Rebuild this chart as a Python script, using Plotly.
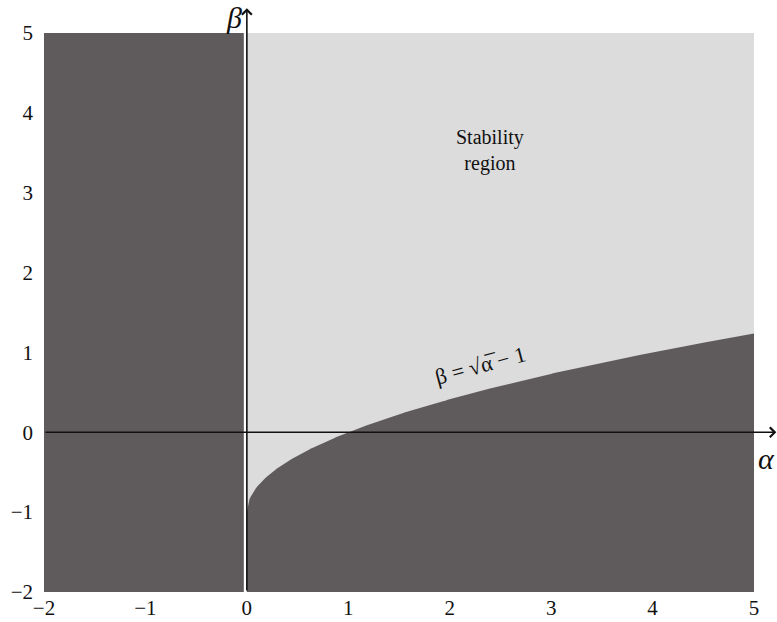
import numpy as np
import plotly.graph_objects as go

# Data
x_ticks = [-2, -1, 0, 1, 2, 3, 4, 5]
y_ticks = [-2, -1, 0, 1, 2, 3, 4, 5]
alpha = list(np.linspace(0, 5, 400))
beta_curve = [np.sqrt(a) - 1 for a in alpha]  # boundary beta = sqrt(alpha) - 1

DARK = "#5f5a5b"
LIGHT = "#dcdcdc"
SERIF = "Liberation Serif"

fig = go.Figure()
# light region x>=0
fig.add_trace(go.Scatter(x=[0, 5, 5, 0, 0], y=[-2, -2, 5, 5, -2], fill="toself",
                         fillcolor=LIGHT, line=dict(width=0), mode="lines",
                         hoverinfo="skip", showlegend=False))
# dark region x<0
fig.add_trace(go.Scatter(x=[-2, -0.03, -0.03, -2, -2], y=[-2, -2, 5, 5, -2], fill="toself",
                         fillcolor=DARK, line=dict(width=0), mode="lines",
                         hoverinfo="skip", showlegend=False))
# dark region below curve
fig.add_trace(go.Scatter(x=alpha + [5, 0], y=beta_curve + [-2, -2], fill="toself",
                         fillcolor=DARK, line=dict(width=0), mode="lines",
                         hoverinfo="skip", showlegend=False))

# axes lines with arrows
fig.add_annotation(x=5.22, y=0, ax=-2, ay=0, xref="x", yref="y", axref="x", ayref="y",
                   showarrow=True, arrowhead=4, arrowsize=1.2, arrowwidth=1.6,
                   arrowcolor="#111", text="")
fig.add_annotation(x=0, y=5.31, ax=0, ay=-2, xref="x", yref="y", axref="x", ayref="y",
                   showarrow=True, arrowhead=4, arrowsize=1.2, arrowwidth=1.6,
                   arrowcolor="#111", text="")

fig.add_annotation(x=0.253, y=1.06, xref="paper", yref="paper", text="<i>β</i>",
                   showarrow=False, font=dict(family=SERIF, size=30, color="#111"))
fig.add_annotation(x=1.033, y=0.205, xref="paper", yref="paper", text="<i>α</i>",
                   showarrow=False, font=dict(family=SERIF, size=30, color="#111"))
fig.add_annotation(x=2.40, y=3.53, text="Stability<br>region", showarrow=False,
                   font=dict(family=SERIF, size=20, color="#111"))
fig.add_annotation(x=2.30, y=0.84, text="β = √α̅ − 1", showarrow=False, textangle=-15,
                   font=dict(family=SERIF, size=22, color="#111"))

fig.update_xaxes(range=[-2, 5], tickvals=x_ticks, ticktext=[str(v).replace("-", "−") for v in x_ticks],
                 showgrid=False, zeroline=False, showline=False, ticks="", automargin=False,
                 ticklabelstandoff=1,
                 tickfont=dict(family=SERIF, size=21, color="#111"))
fig.update_yaxes(range=[-2, 5], tickvals=y_ticks, ticktext=[str(v).replace("-", "−") for v in y_ticks],
                 showgrid=False, zeroline=False, showline=False, ticks="", automargin=False,
                 ticklabelstandoff=10,
                 tickfont=dict(family=SERIF, size=21, color="#111"))

fig.update_layout(width=777, height=622, margin=dict(l=44, r=23, t=33, b=30),
                  plot_bgcolor="white", paper_bgcolor="white",
                  font=dict(family=SERIF))
fig.write_html("out.html")
